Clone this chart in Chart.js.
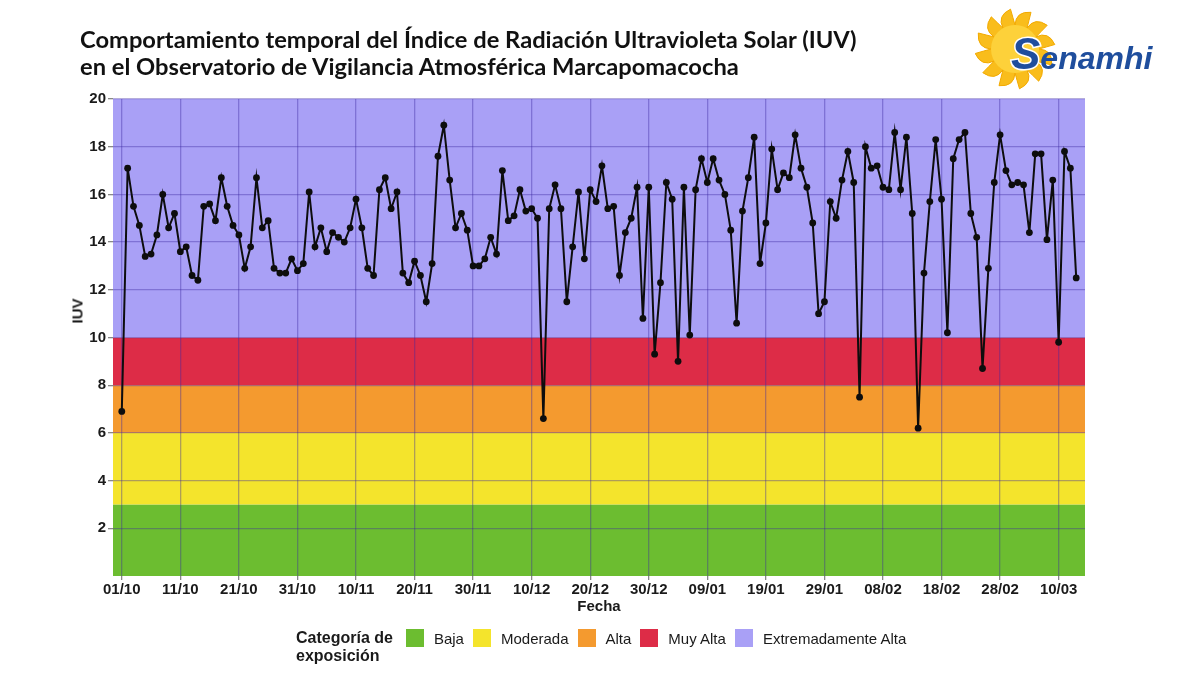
<!DOCTYPE html>
<html lang="es">
<head>
<meta charset="utf-8">
<title>IUV Marcapomacocha</title>
<script src="https://cdn.jsdelivr.net/npm/chart.js@4.4.1/dist/chart.umd.min.js"></script>
<style>
  html, body { margin: 0; padding: 0; background: #fff; }
  #wrap { position: relative; width: 1200px; height: 675px; overflow: hidden; font-family: "Liberation Sans", Arial, sans-serif; }
  #chart { position: absolute; left: 0; top: 0; }
  #titulo { position: absolute; left: 80px; top: 26px; font-family: Lato, "Open Sans", sans-serif; font-weight: 700;
            font-size: 23px; line-height: 27px; color: #111; white-space: nowrap; transform-origin: 0 0; }
  #ylab { position: absolute; left: 77px; top: 311px; transform: translate(-50%, -50%) rotate(-90deg);
          font-weight: 700; font-size: 15px; color: #1a1a1a; }
  #logo { position: absolute; left: 975px; top: 5px; }
  #leyenda { position: absolute; left: 296px; top: 629px; display: flex; align-items: flex-start; color: #1a1a1a; }
  #leyenda .tit { font-weight: 700; font-size: 16px; line-height: 18px; margin-right: 13px; }
  #leyenda .item { display: flex; align-items: center; height: 18px; margin-right: 9px; font-size: 15px; }
  #leyenda .sw { width: 18px; height: 18px; margin-right: 10px; }
</style>
</head>
<body>
<div id="wrap">
  <canvas id="chart" width="1200" height="675"></canvas>
  <div id="titulo">Comportamiento temporal del Índice de Radiación Ultravioleta Solar (IUV)<br>en el Observatorio de Vigilancia Atmosférica Marcapomacocha</div>
  <div id="ylab">IUV</div>
  <svg id="logo" width="190" height="90" viewBox="0 0 190 90"></svg>
  <div id="leyenda"></div>
</div>
<script>
// IUV diario, 01/10 al 13/03 (un valor por dia)
const iuv = [
  6.9, 17.1, 15.5, 14.7, 13.4, 13.5, 14.3, 16.0, 14.6, 15.2,
  13.6, 13.8, 12.6, 12.4, 15.5, 15.6, 14.9, 16.7, 15.5, 14.7,
  14.3, 12.9, 13.8, 16.7, 14.6, 14.9, 12.9, 12.7, 12.7, 13.3,
  12.8, 13.1, 16.1, 13.8, 14.6, 13.6, 14.4, 14.2, 14.0, 14.6,
  15.8, 14.6, 12.9, 12.6, 16.2, 16.7, 15.4, 16.1, 12.7, 12.3,
  13.2, 12.6, 11.5, 13.1, 17.6, 18.9, 16.6, 14.6, 15.2, 14.5,
  13.0, 13.0, 13.3, 14.2, 13.5, 17.0, 14.9, 15.1, 16.2, 15.3,
  15.4, 15.0, 6.6, 15.4, 16.4, 15.4, 11.5, 13.8, 16.1, 13.3,
  16.2, 15.7, 17.2, 15.4, 15.5, 12.6, 14.4, 15.0, 16.3, 10.8,
  16.3, 9.3, 12.3, 16.5, 15.8, 9.0, 16.3, 10.1, 16.2, 17.5,
  16.5, 17.5, 16.6, 16.0, 14.5, 10.6, 15.3, 16.7, 18.4, 13.1,
  14.8, 17.9, 16.2, 16.9, 16.7, 18.5, 17.1, 16.3, 14.8, 11.0,
  11.5, 15.7, 15.0, 16.6, 17.8, 16.5, 7.5, 18.0, 17.1, 17.2,
  16.3, 16.2, 18.6, 16.2, 18.4, 15.2, 6.2, 12.7, 15.7, 18.3,
  15.8, 10.2, 17.5, 18.3, 18.6, 15.2, 14.2, 8.7, 12.9, 16.5,
  18.5, 17.0, 16.4, 16.5, 16.4, 14.4, 17.7, 17.7, 14.1, 16.6,
  9.8, 17.8, 17.1, 12.5
];

// eje x: dias desde 01/10
const tickDias = [0, 10, 20, 30, 40, 50, 60, 70, 80, 90, 100, 110, 120, 130, 140, 150, 160];
const tickLabels = ['01/10', '11/10', '21/10', '31/10', '10/11', '20/11', '30/11', '10/12', '20/12',
                    '30/12', '09/01', '19/01', '29/01', '08/02', '18/02', '28/02', '10/03'];
const yTicks = [2, 4, 6, 8, 10, 12, 14, 16, 18, 20];

// categorias de exposicion y sus limites de IUV
const categorias = ['Baja', 'Moderada', 'Alta', 'Muy Alta', 'Extremadamente Alta'];
const limites = [0, 3, 6, 8, 10, 20];
const colores = ['#6cbd30', '#f4e42c', '#f49a2f', '#dd2c47', '#a9a0f6'];

const gridColor = 'rgba(60,40,160,0.38)';
const txt = '#1a1a1a';

// franjas de fondo
const bandas = {
  id: 'bandas',
  beforeDraw(chart) {
    const { ctx, chartArea: a, scales: { y } } = chart;
    ctx.save();
    for (let i = 0; i < categorias.length; i++) {
      const top = y.getPixelForValue(limites[i + 1]);
      const bot = y.getPixelForValue(limites[i]);
      ctx.fillStyle = colores[i];
      ctx.fillRect(a.left, top, a.right - a.left, bot - top);
    }
    ctx.restore();
  }
};

new Chart(document.getElementById('chart').getContext('2d'), {
  type: 'line',
  data: {
    datasets: [{
      data: iuv.map((v, i) => ({ x: i, y: v })),
      borderColor: '#0d0d0d',
      borderWidth: 2,
      pointRadius: 3.4,
      pointBackgroundColor: '#0d0d0d',
      pointBorderWidth: 0,
      tension: 0
    }]
  },
  options: {
    responsive: false,
    animation: false,
    layout: { padding: { left: 0, right: 115, top: 99, bottom: 54 } },
    plugins: { legend: { display: false }, tooltip: { enabled: false } },
    scales: {
      x: {
        type: 'linear', min: -1.5, max: 164.5,
        afterBuildTicks: (s) => { s.ticks = tickDias.map(v => ({ value: v })); },
        afterFit: (s) => { s.height = 45; },
        ticks: {
          autoSkip: false, maxRotation: 0, padding: 1, color: txt,
          font: { family: 'Liberation Sans', size: 15, weight: 'bold' },
          callback: (v) => tickLabels[tickDias.indexOf(v)]
        },
        grid: { color: gridColor, lineWidth: 1.3, tickColor: '#888', tickLength: 4 },
        border: { display: false },
        title: {
          display: true, text: 'Fecha', color: txt, padding: { top: 0, bottom: 5 },
          font: { family: 'Liberation Sans', size: 15, weight: 'bold' }
        }
      },
      y: {
        min: 0, max: 20,
        afterBuildTicks: (s) => { s.ticks = yTicks.map(v => ({ value: v })); },
        afterFit: (s) => { s.width = 113; },
        ticks: {
          padding: 2, color: txt,
          font: { family: 'Liberation Sans', size: 15, weight: 'bold' }
        },
        grid: { color: gridColor, lineWidth: 1.3, tickColor: '#888', tickLength: 5 },
        border: { display: false }
      }
    }
  },
  plugins: [bandas]
});

// titulo ajustado al ancho
const tit = document.getElementById('titulo');
tit.style.transform = 'scaleX(' + (777 / tit.offsetWidth) + ')';

// leyenda
const ley = document.getElementById('leyenda');
ley.innerHTML = '<div class="tit">Categoría de<br>exposición</div>' +
  categorias.map((c, i) => '<div class="item"><div class="sw" style="background:' + colores[i] + '"></div>' + c + '</div>').join('');

// logo Senamhi
const svg = document.getElementById('logo');
let d = '';
const n = 12, cx = 40, cy = 44;
for (let k = 0; k < n; k++) {
  const a0 = (k / n) * Math.PI * 2, a1 = ((k + 0.5) / n) * Math.PI * 2, a2 = ((k + 1) / n) * Math.PI * 2;
  const p = (a, r) => (cx + r * Math.cos(a)).toFixed(1) + ' ' + (cy + r * Math.sin(a)).toFixed(1);
  if (k === 0) d += 'M' + p(a0, 24);
  d += ' Q' + p(a0 + 0.02, 38) + ' ' + p(a1 + 0.15, 40);
  d += ' Q' + p(a1 + 0.2, 31) + ' ' + p(a2, 24);
}
svg.innerHTML =
  '<path d="' + d + ' Z" fill="#f9bd1c" stroke="#f2a900" stroke-width="1"/>' +
  '<circle cx="40" cy="44" r="24" fill="#fdd13a"/>' +
  '<text x="36" y="64" font-family="Liberation Sans" font-weight="bold" font-style="italic" fill="#1f4e9d">' +
  '<tspan font-size="44" stroke="#fff" stroke-width="3" paint-order="stroke">S</tspan>' +
  '<tspan font-size="32">enamhi</tspan></text>';
</script>
</body>
</html>
